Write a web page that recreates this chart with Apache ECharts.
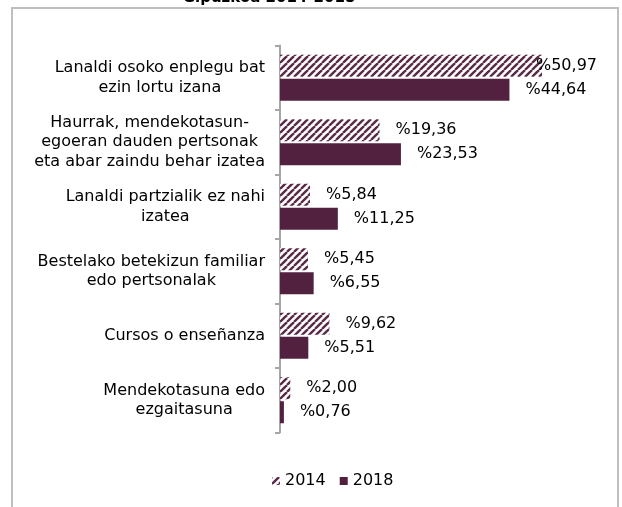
<!DOCTYPE html>
<html>
<head>
<meta charset="utf-8">
<style>
  html, body { margin: 0; padding: 0; background: #fff; }
  #chart { width: 622px; height: 507px; }
</style>
<script src="https://cdn.jsdelivr.net/npm/echarts@6/dist/echarts.min.js"></script>
</head>
<body>
<div id="chart"></div>
<script>
const categories = [
  'Lanaldi osoko enplegu bat\nezin lortu izana',
  'Haurrak, mendekotasun-\negoeran dauden pertsonak\neta abar zaindu behar izatea',
  'Lanaldi partzialik ez nahi\nizatea',
  'Bestelako betekizun familiar\nedo pertsonalak',
  'Cursos o enseñanza',
  'Mendekotasuna edo\nezgaitasuna'
]
const values2014 = [50.97, 19.36, 5.84, 5.45, 9.62, 2.00]
const values2018 = [44.64, 23.53, 11.25, 6.55, 5.51, 0.76]
const seriesNames = ['2014', '2018']

const FONT = 'DejaVu Sans'
const PURPLE = '#52213f'

// patrón rayado para 2014
function hatchPattern () {
  const n = 7
  const c = document.createElement('canvas')
  c.width = n
  c.height = n
  const ctx = c.getContext('2d')
  ctx.fillStyle = '#fff'
  ctx.fillRect(0, 0, n, n)
  ctx.strokeStyle = '#5a2a48'
  ctx.lineWidth = 2.4
  for (const k of [-n, 0, n]) {
    ctx.beginPath()
    ctx.moveTo(k, n)
    ctx.lineTo(k + n, 0)
    ctx.stroke()
  }
  return c
}

const chart = echarts.init(document.getElementById('chart'))

const fmt = v => '%' + v.toFixed(2).replace('.', ',')

const valueLabel = {
  show: true,
  position: 'right',
  distance: 16,
  color: '#000',
  fontFamily: FONT,
  fontSize: 16,
  formatter: p => fmt(p.value)
}

const option = {
  animation: false,
  title: {
    text: 'Gipuzkoa 2014-2018',
    left: 264,
    textAlign: 'center',
    top: -14,
    textStyle: { fontFamily: FONT, fontSize: 15, fontWeight: 'bold', color: '#000' }
  },
  graphic: [
    {
      type: 'rect',
      silent: true,
      z: -1,
      shape: { x: 12, y: 8, width: 606, height: 520 },
      style: { fill: 'none', stroke: '#bfbfbf', lineWidth: 2 }
    }
  ],
  legend: {
    data: seriesNames,
    left: 267,
    top: 468,
    icon: 'rect',
    itemWidth: 8,
    itemHeight: 8,
    itemGap: 14,
    textStyle: { fontFamily: FONT, fontSize: 16, color: '#000' }
  },
  grid: {
    left: 280,
    right: 33.6,
    top: 45.5,
    bottom: 74.5
  },
  xAxis: {
    type: 'value',
    min: 0,
    max: 60,
    show: false
  },
  yAxis: {
    type: 'category',
    data: categories,
    inverse: true,
    axisLine: { show: true, lineStyle: { color: '#a6a6a6', width: 2 } },
    axisTick: { show: true, interval: 0, length: 5, lineStyle: { color: '#a6a6a6', width: 2 } },
    axisLabel: {
      margin: 15,
      interval: 0,
      formatter: v => v.split('\n').map(l => '{c|' + l + '}').join('\n'),
      rich: {
        c: { align: 'center', fontFamily: FONT, fontSize: 16, lineHeight: 19.5, color: '#000' }
      }
    },
    splitLine: { show: false }
  },
  series: [
    {
      name: seriesNames[0],
      type: 'bar',
      barWidth: 22,
      barGap: '9%',
      itemStyle: { color: { image: hatchPattern(), repeat: 'repeat' } },
      label: valueLabel,
      data: values2014.map((v, i) => i === 0 ? { value: v, label: { offset: [-22, 0] } } : v)
    },
    {
      name: seriesNames[1],
      type: 'bar',
      barWidth: 22,
      barGap: '9%',
      itemStyle: { color: PURPLE },
      label: valueLabel,
      data: values2018
    }
  ]
}

chart.setOption(option)
</script>
</body>
</html>
